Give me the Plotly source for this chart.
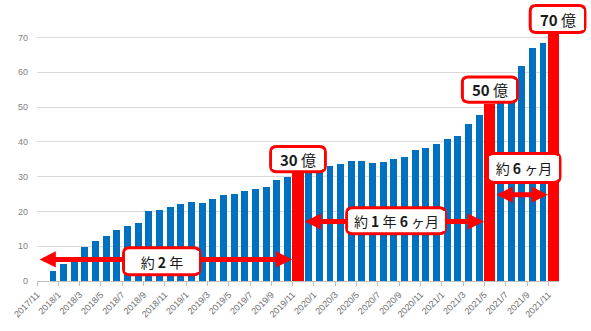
import plotly.graph_objects as go

# ---------------- data ----------------
months = [
    "2017/11", "2017/12",
    "2018/1", "2018/2", "2018/3", "2018/4", "2018/5", "2018/6",
    "2018/7", "2018/8", "2018/9", "2018/10", "2018/11", "2018/12",
    "2019/1", "2019/2", "2019/3", "2019/4", "2019/5", "2019/6",
    "2019/7", "2019/8", "2019/9", "2019/10", "2019/11", "2019/12",
    "2020/1", "2020/2", "2020/3", "2020/4", "2020/5", "2020/6",
    "2020/7", "2020/8", "2020/9", "2020/10", "2020/11", "2020/12",
    "2021/1", "2021/2", "2021/3", "2021/4", "2021/5", "2021/6",
    "2021/7", "2021/8", "2021/9", "2021/10", "2021/11",
]
values = [
    0, 2.9,
    5.0, 7.0, 9.8, 11.5, 12.9, 14.7,
    15.7, 16.8, 20.2, 20.5, 21.4, 22.1,
    22.7, 22.5, 23.7, 24.8, 25.1, 26.0,
    26.5, 27.0, 29.1, 29.8, 30.5, 31.5,
    32.4, 33.1, 33.5, 34.4, 34.6, 34.0,
    34.2, 35.0, 35.7, 37.6, 38.2, 39.5,
    40.7, 41.8, 45.1, 47.8, 50.2, 52.3,
    56.5, 61.7, 66.9, 68.3, 70.5,
]
tick_labels = months[::2]

milestone_months = ["2019/11", "2021/5", "2021/11"]
milestone_values = [30, 50, 70]
milestone_labels = ["<b>30</b> 億", "<b>50</b> 億", "<b>70</b> 億"]

span_labels = ["約 <b>2</b> 年", "約 <b>1</b> 年 <b>6</b> ヶ月", "約 <b>6</b> ヶ月"]

# ---------------- styling / geometry ----------------
BLUE = "#0070C0"
RED = "#FF0000"
CJK = "Noto Sans CJK JP"
LABEL_PAD = 1.0
W, H = 591, 331
ML, MR, MT, MB = 25, 32, 34, 41
PW, PH = W - ML - MR, H - MT - MB
Y_MAX = 71
N = len(months)

idx = {m: i for i, m in enumerate(months)}
x_pos = [i + 0.5 for i in range(N)]
m_idx = [idx[m] for m in milestone_months]

fig = go.Figure()
fig.add_trace(go.Bar(
    x=x_pos, y=values, width=0.65, marker=dict(color=BLUE, line=dict(width=0)),
    hoverinfo="skip", showlegend=False,
))
fig.add_trace(go.Bar(
    x=[i + 0.5 for i in m_idx], y=[v + LABEL_PAD for v in milestone_values],
    width=1.05, marker=dict(color=RED, line=dict(width=0)),
    hoverinfo="skip", showlegend=False, cliponaxis=False,
))

annotations = []
shapes = []

# double-headed arrows between milestones
arrow_y = [6.2, 17.1, 24.8]
starts = [0.1] + [i + 1.0 for i in m_idx[:-1]]
ends = [i - 0.05 for i in m_idx]
for x0, x1, ay in zip(starts, ends, arrow_y):
    annotations.append(dict(
        x=x1, y=ay, ax=x0, ay=ay, xref="x", yref="y", axref="x", ayref="y",
        text="", showarrow=True, arrowhead=2, startarrowhead=2,
        arrowside="end+start", arrowsize=0.65, startarrowsize=0.65,
        arrowwidth=5, arrowcolor=RED, standoff=0, startstandoff=0,
    ))


def rounded_box(cx_px, cy_px, w_px, h_px, r_px=6, lw=3):
    """rounded rectangle in paper coords, centred at pixel position."""
    w_px -= lw
    h_px -= lw
    x0 = (cx_px - w_px / 2 - ML) / PW
    x1 = (cx_px + w_px / 2 - ML) / PW
    y0 = (H - MB - (cy_px + h_px / 2)) / PH
    y1 = (H - MB - (cy_px - h_px / 2)) / PH
    rx, ry = r_px / PW, r_px / PH
    path = (
        f"M{x0+rx},{y0} L{x1-rx},{y0} Q{x1},{y0} {x1},{y0+ry} "
        f"L{x1},{y1-ry} Q{x1},{y1} {x1-rx},{y1} "
        f"L{x0+rx},{y1} Q{x0},{y1} {x0},{y1-ry} "
        f"L{x0},{y0+ry} Q{x0},{y0} {x0+rx},{y0} Z"
    )
    return dict(type="path", path=path, xref="paper", yref="paper",
                fillcolor="white", line=dict(color=RED, width=lw), layer="above")


def data_to_px(x, y):
    return ML + x / N * PW, H - MB - y / Y_MAX * PH


def add_box(cx_px, cy_px, w_px, h_px, txt, size):
    shapes.append(rounded_box(cx_px, cy_px, w_px, h_px))
    annotations.append(dict(
        x=(cx_px - ML) / PW, y=(H - MB - cy_px) / PH, xref="paper", yref="paper",
        xanchor="center", yanchor="middle",
        text=txt, showarrow=False,
        font=dict(family=CJK, size=size, color="#1a1a1a"),
        bgcolor="white", borderwidth=0, borderpad=0,
        width=w_px - 7, height=h_px - 10, align="center", valign="middle",
    ))


# span label boxes (centre in data coords, size in px)
span_pos = [(11.7, 5.7, 81, 31), (33.7, 17.3, 104, 30), (45.7, 32.5, 77, 33)]
for (sx, sy, w, h), txt in zip(span_pos, span_labels):
    cx, cy = data_to_px(sx, sy)
    add_box(cx, cy, w, h, txt, 14)

# milestone label boxes (sit on top of the red bars)
ms_shift = [0, 0, 4]
ms_h = [29, 29, 31]
for i, v, txt, xs, h in zip(m_idx, milestone_values, milestone_labels, ms_shift, ms_h):
    cx, by = data_to_px(i + 0.5, v + LABEL_PAD)
    add_box(cx + xs, by - h / 2, 59, h, txt, 15)

fig.update_layout(
    width=W, height=H,
    margin=dict(l=ML, r=MR, t=MT, b=MB),
    paper_bgcolor="white", plot_bgcolor="white",
    barmode="overlay", bargap=0,
    annotations=annotations, shapes=shapes,
    showlegend=False,
)
fig.update_xaxes(
    range=[0, N],
    tickmode="array",
    tickvals=[idx[t] for t in tick_labels],
    ticktext=tick_labels,
    tickangle=-45,
    tickfont=dict(family="Liberation Sans", size=9, color="#6f6f6f"),
    showgrid=False, zeroline=False,
    showline=True, linecolor="#bfbfbf", linewidth=1,
    ticks="outside", ticklen=4, tickcolor="#bfbfbf",
)
fig.update_yaxes(
    range=[0, Y_MAX],
    tickmode="array", tickvals=[0, 10, 20, 30, 40, 50, 60, 70],
    tickfont=dict(family="Liberation Sans", size=9, color="#7f7f7f"),
    showgrid=True, gridcolor="#d9d9d9", gridwidth=1,
    zeroline=False, showline=False, ticklabelstandoff=8,
)

fig.write_html("out.html")
